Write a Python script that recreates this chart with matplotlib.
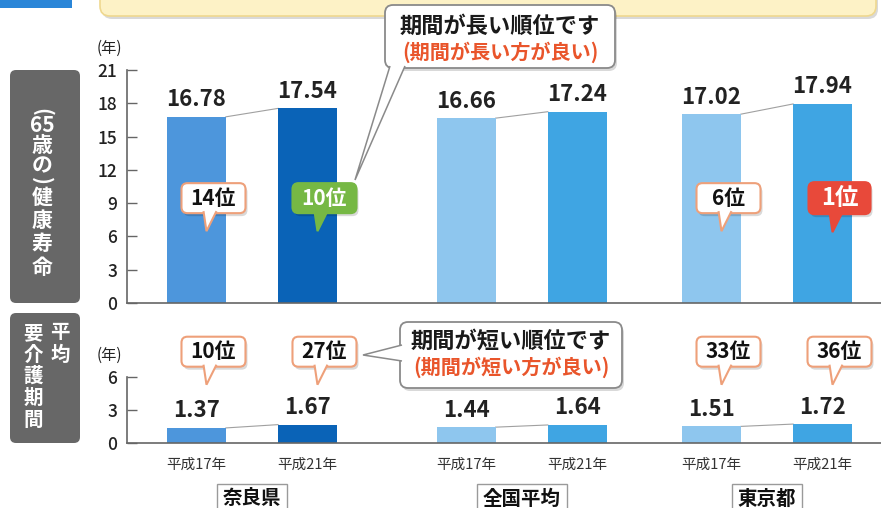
import numpy as np
import matplotlib.pyplot as plt
from matplotlib.patches import FancyBboxPatch, Polygon, Rectangle
from matplotlib.transforms import IdentityTransform

plt.rcParams['font.family'] = ['Noto Sans CJK JP', 'DejaVu Sans']

W, H = 881, 508

# data
groups = ['奈良県', '全国平均', '東京都']
years = ['平成17年', '平成21年']
healthy = [16.78, 17.54, 16.66, 17.24, 17.02, 17.94]   # 健康寿命 (年)
care = [1.37, 1.67, 1.44, 1.64, 1.51, 1.72]            # 平均要介護期間 (年)
rank_healthy = ['14位', '10位', None, None, '6位', '1位']
rank_care = ['10位', '27位', None, None, '33位', '36位']

# styles / layout
badge_healthy = ['plain', 'green', None, None, 'plain', 'red']
badge_care = ['plain', 'plain', None, None, 'plain', 'plain']
bar_colors = ['#4d96dc', '#0a63b7', '#8ec6ee', '#3fa5e3', '#8ec6ee', '#3fa5e3']
group_pos = np.array([0.0, 2.43, 4.64])
width = 0.53
xs = (group_pos[:, None] + np.array([-0.5, 0.5])).ravel()

ID = IdentityTransform()


def px(x, y):
    # image pixel (top-left origin) -> display coords
    return x, H - y


def rbox(x0, y0, x1, y1, r, shadow=True, **kw):
    # rounded box given in display coords (bottom-left origin)
    if shadow:
        s = FancyBboxPatch((x0 + 2, y0 - 3), x1 - x0, y1 - y0,
                           boxstyle=f'round,pad=0,rounding_size={r}',
                           transform=ID, fc='#000000', ec='none', alpha=0.15)
        fig.add_artist(s)
    p = FancyBboxPatch((x0, y0), x1 - x0, y1 - y0,
                       boxstyle=f'round,pad=0,rounding_size={r}',
                       transform=ID, **kw)
    fig.add_artist(p)
    return p


def dtext(x, y, s, **kw):
    fig.text(x, y, s, transform=ID, **kw)


fig = plt.figure(figsize=(W / 100, H / 100), dpi=100)
ax1 = fig.add_axes([127 / W, 205 / H, 754 / W, 233 / H])
ax2 = fig.add_axes([127 / W, 65 / H, 754 / W, 66 / H])

for ax, vals, top in ((ax1, healthy, 21), (ax2, care, 6)):
    ax.bar(xs, vals, width, color=bar_colors, zorder=2)
    for i in range(0, len(vals), 2):
        ax.plot([xs[i] + width / 2, xs[i + 1] - width / 2], [vals[i], vals[i + 1]],
                color='#a0a0a0', lw=0.8, zorder=1)
    for x, v in zip(xs, vals):
        ax.annotate(f'{v:.2f}', (x, v), xytext=(0, 4), textcoords='offset points',
                    ha='center', va='bottom', fontsize=16, fontweight='bold',
                    color='#222222')
    ax.set_xlim(-1.126, 5.667)
    ax.set_ylim(0, top)
    ax.set_yticks(np.arange(0, top + 1, 3))
    for sp in ('top', 'right'):
        ax.spines[sp].set_visible(False)
    for sp in ('left', 'bottom'):
        ax.spines[sp].set_color('#666666')
        ax.spines[sp].set_linewidth(1.2)
    ax.tick_params(axis='y', direction='in', length=7, width=1, color='#666666',
                   labelsize=12.5, labelcolor='#222222', pad=7)
    for lab in ax.get_yticklabels():
        lab.set_fontweight('medium')
    ax.tick_params(axis='x', bottom=False, labelbottom=False)

# x category labels
for i, x in enumerate(xs):
    ax2.annotate(years[i % 2], (x, 0), xytext=(0, -16), textcoords='offset points',
                 ha='center', va='center', fontsize=10.5, color='#333333')
for g, name in zip(group_pos, groups):
    gx = ax2.transData.transform((g, 0))[0]
    dtext(gx, H - 499, name, ha='center', va='center', fontsize=14, fontweight='bold',
          color='#111111',
          bbox=dict(boxstyle='square,pad=0.3', fc='white', ec='#9a9a9a', lw=1))

# unit labels
dtext(*px(109, 48), '(年)', ha='center', va='center', fontsize=11, color='#222222')
dtext(*px(109, 355), '(年)', ha='center', va='center', fontsize=11, color='#222222')

# top decorations (cut off header)
rbox(*px(100, 16), *px(876, -40), 10, fc='#fdf2c6', ec='#efd88f', lw=1.2)
fig.add_artist(Rectangle(px(0, 8), 72, 20, transform=ID, fc='#2a86d8', ec='none'))

# left grey labels
rbox(*px(10, 303), *px(80, 70), 6, shadow=False, fc='#676767', ec='none')
rbox(*px(10, 443), *px(80, 313), 6, shadow=False, fc='#676767', ec='none')
left_parts = [('(', 112, -90), ('65', 125, 0), ('歳', 146, 0), ('の', 166, 0),
              (')', 181, -90), ('健', 198, 0), ('康', 220, 0), ('寿', 243, 0), ('命', 267, 0)]
for s, y, rot in left_parts:
    dtext(*px(42, y), s, ha='center', va='center', fontsize=15, fontweight='bold',
          color='white', rotation=rot)
for s, y in zip('平均', [333, 355]):
    dtext(*px(60, y), s, ha='center', va='center', fontsize=14, fontweight='bold', color='white')
for s, y in zip('要介護期間', [334, 355, 376, 398, 420]):
    dtext(*px(33, y), s, ha='center', va='center', fontsize=14, fontweight='bold', color='white')

# rank badges
styles = {'plain': ('white', '#eea07a', '#111111'),
          'green': ('#76b844', '#76b844', 'white'),
          'red': ('#e8493a', '#e8493a', 'white')}


def badge(ax, x, y, label, style):
    cx, cy = ax.transData.transform((x, y))
    cx += 17
    fc, ec, tc = styles[style]
    w, h = (62, 32) if style == 'red' else (64, 30)
    bot = cy - h / 2
    rbox(cx - w / 2, bot, cx + w / 2, cy + h / 2, 6, fc=fc, ec=ec, lw=1.5)
    tail = Polygon([(cx + 3, bot + 2), (cx - 7, bot - 18), (cx - 10, bot + 2)], closed=False,
                   transform=ID, fc=fc, ec=ec, lw=1.5)
    fig.add_artist(tail)
    fs = 17 if style == 'red' else 15
    dtext(cx, cy, label, ha='center', va='center', fontsize=fs, fontweight='bold', color=tc)


for x, r, st in zip(xs, rank_healthy, badge_healthy):
    if r:
        badge(ax1, x, 9.45, r, st)
for x, r, st in zip(xs, rank_care, badge_care):
    if r:
        badge(ax2, x, 8.3, r, st)

# explanation callouts
rbox(*px(385, 68), *px(615, 5), 8, fc='white', ec='#8a8a8a', lw=1.3)
fig.add_artist(Polygon([px(405, 66), px(355, 180), px(390, 66)], closed=False,
                       transform=ID, fc='white', ec='#8a8a8a', lw=1.1))
dtext(*px(500, 26), '期間が長い順位です', ha='center', va='center', fontsize=16,
      fontweight='bold', color='#1a1a1a')
dtext(*px(500, 52), '(期間が長い方が良い)', ha='center', va='center', fontsize=14.5,
      fontweight='bold', color='#e9552b')

rbox(*px(400, 388), *px(622, 322), 8, fc='white', ec='#8a8a8a', lw=1.3)
fig.add_artist(Polygon([px(402, 345), px(363, 355), px(402, 361)], closed=False,
                       transform=ID, fc='white', ec='#8a8a8a', lw=1.1))
dtext(*px(511, 341), '期間が短い順位です', ha='center', va='center', fontsize=16,
      fontweight='bold', color='#1a1a1a')
dtext(*px(511, 367), '(期間が短い方が良い)', ha='center', va='center', fontsize=14.5,
      fontweight='bold', color='#e9552b')

fig.savefig('out.png', dpi=100)
